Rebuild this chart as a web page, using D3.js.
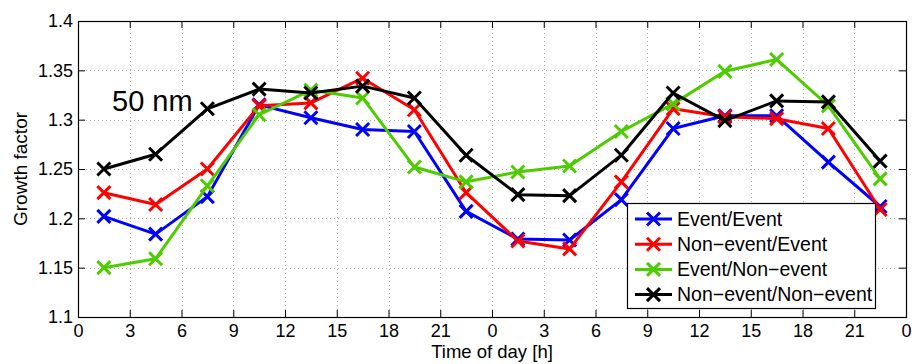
<!DOCTYPE html>
<html>
<head>
<meta charset="utf-8">
<script src="https://cdn.jsdelivr.net/npm/d3@7"></script>
<style>
  html, body { margin: 0; padding: 0; background: #fff; }
  svg text { font-family: "Liberation Sans", Arial, Helvetica, sans-serif; fill: #000; }
</style>
</head>
<body>
<svg id="chart" width="912" height="364"></svg>
<script>
// ---- data ----
const hours = [1.5, 4.5, 7.5, 10.5, 13.5, 16.5, 19.5, 22.5, 25.5, 28.5, 31.5, 34.5, 37.5, 40.5, 43.5, 46.5];
const eventEvent = [1.202, 1.184, 1.222, 1.315, 1.302, 1.290, 1.288, 1.207, 1.179, 1.178, 1.219, 1.291, 1.304, 1.304, 1.257, 1.212];
const nonEventEvent = [1.226, 1.214, 1.250, 1.314, 1.317, 1.342, 1.310, 1.226, 1.177, 1.169, 1.237, 1.311, 1.303, 1.301, 1.291, 1.209];
const eventNonEvent = [1.150, 1.159, 1.233, 1.305, 1.330, 1.322, 1.252, 1.237, 1.247, 1.253, 1.288, 1.316, 1.349, 1.361, 1.314, 1.240];
const nonEventNonEvent = [1.250, 1.265, 1.311, 1.331, 1.327, 1.334, 1.322, 1.264, 1.224, 1.223, 1.264, 1.327, 1.299, 1.319, 1.318, 1.258];
const seriesNames = ["Event/Event", "Non\u2212event/Event", "Event/Non\u2212event", "Non\u2212event/Non\u2212event"];
const seriesColors = ["#0000ff", "#ff0000", "#4dcc00", "#000000"];
const xTickValues = [0, 3, 6, 9, 12, 15, 18, 21, 24, 27, 30, 33, 36, 39, 42, 45, 48];
const xTickLabels = ["0", "3", "6", "9", "12", "15", "18", "21", "0", "3", "6", "9", "12", "15", "18", "21", "0"];
const yTickValues = [1.1, 1.15, 1.2, 1.25, 1.3, 1.35, 1.4];
const yTickLabels = ["1.1", "1.15", "1.2", "1.25", "1.3", "1.35", "1.4"];
const annotation = "50 nm";
const xLabel = "Time of day [h]";
const yLabel = "Growth factor";

const allSeries = [eventEvent, nonEventEvent, eventNonEvent, nonEventNonEvent];

// ---- layout ----
const L = 78, R = 906, T = 21, B = 317;
const svg = d3.select("#chart");
const x = d3.scaleLinear().domain([0, 48]).range([L, R]);
const y = d3.scaleLinear().domain([1.1, 1.4]).range([B, T]);

// grid
const grid = svg.append("g").attr("stroke", "#b0b0b0").attr("stroke-width", 1).attr("stroke-dasharray", "1,3");
grid.selectAll("line.gx").data(xTickValues.slice(1, -1)).join("line")
  .attr("x1", d => Math.round(x(d)) + 0.5).attr("x2", d => Math.round(x(d)) + 0.5)
  .attr("y1", T).attr("y2", B);
grid.selectAll("line.gy").data(yTickValues.slice(1, -1)).join("line")
  .attr("y1", d => Math.round(y(d)) + 0.5).attr("y2", d => Math.round(y(d)) + 0.5)
  .attr("x1", L).attr("x2", R);

// axes (bottom/left with labels, ticks inward)
const fmtX = (d, i) => xTickLabels[i];
const fmtY = (d, i) => yTickLabels[i];
const axB = svg.append("g").attr("transform", `translate(0,${B})`)
  .call(d3.axisBottom(x).tickValues(xTickValues).tickFormat(fmtX).tickSizeInner(-7).tickSizeOuter(0).tickPadding(7.7));
const axL = svg.append("g").attr("transform", `translate(${L},0)`)
  .call(d3.axisLeft(y).tickValues(yTickValues).tickFormat(fmtY).tickSizeInner(-7).tickSizeOuter(0).tickPadding(5));
const axT = svg.append("g").attr("transform", `translate(0,${T})`)
  .call(d3.axisTop(x).tickValues(xTickValues).tickFormat("").tickSizeInner(-7).tickSizeOuter(0));
const axR = svg.append("g").attr("transform", `translate(${R},0)`)
  .call(d3.axisRight(y).tickValues(yTickValues).tickFormat("").tickSizeInner(-7).tickSizeOuter(0));
[axB, axL, axT, axR].forEach(a => {
  a.select(".domain").remove();
  a.selectAll("line").attr("stroke", "#000").attr("stroke-width", 1);
  a.selectAll("text").attr("font-size", 18).attr("fill", "#000")
    .style("font-family", '"Liberation Sans", Arial, sans-serif');
});
// box
svg.append("rect").attr("x", L + 0.5).attr("y", T + 0.5).attr("width", R - L).attr("height", B - T)
  .attr("fill", "none").attr("stroke", "#000").attr("stroke-width", 1.2);

// series
const line = d3.line().x((d, i) => x(hours[i])).y(d => y(d));
const ms = 6.5;
function cross(g, cx, cy, color) {
  g.append("path")
    .attr("d", `M${cx - ms},${cy - ms}L${cx + ms},${cy + ms}M${cx - ms},${cy + ms}L${cx + ms},${cy - ms}`)
    .attr("stroke", color).attr("stroke-width", 3).attr("fill", "none");
}
allSeries.forEach((vals, si) => {
  const g = svg.append("g");
  g.append("path").datum(vals).attr("d", line)
    .attr("fill", "none").attr("stroke", seriesColors[si]).attr("stroke-width", 3)
    .attr("stroke-linejoin", "round");
  vals.forEach((v, i) => cross(g, x(hours[i]), y(v), seriesColors[si]));
});

// annotation
svg.append("text").attr("x", 112).attr("y", 111).attr("font-size", 29).text(annotation);

// axis labels
svg.append("text").attr("x", (L + R) / 2).attr("y", 358).attr("text-anchor", "middle")
  .attr("font-size", 18.5).text(xLabel);
svg.append("text").attr("transform", `translate(26.5,${(T + B) / 2}) rotate(-90)`)
  .attr("text-anchor", "middle").attr("font-size", 19).text(yLabel);

// legend
const lg = svg.append("g");
lg.append("rect").attr("x", 627.5).attr("y", 203.5).attr("width", 248).attr("height", 105)
  .attr("fill", "#fff").attr("stroke", "#000").attr("stroke-width", 1.2);
seriesNames.forEach((name, i) => {
  const cy = 219 + i * 25.2;
  lg.append("line").attr("x1", 635).attr("x2", 672).attr("y1", cy).attr("y2", cy)
    .attr("stroke", seriesColors[i]).attr("stroke-width", 3);
  cross(lg, 653.5, cy, seriesColors[i]);
  lg.append("text").attr("x", 677).attr("y", cy + 6.8).attr("font-size", 19.5).text(name);
});
</script>
</body>
</html>
